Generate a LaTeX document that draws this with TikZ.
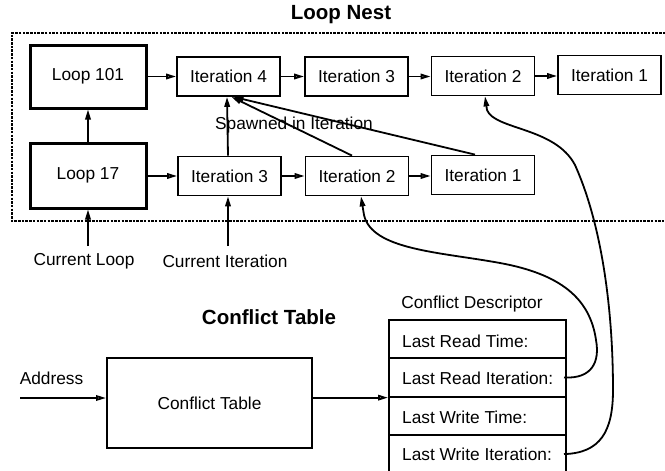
\documentclass[tikz,border=0pt]{standalone}
\usepackage{fontspec}
\setmainfont{Liberation Sans}
\usetikzlibrary{arrows.meta}
\tikzset{
  txt/.style={font=\fontsize{17.3pt}{20pt}\selectfont, inner sep=1pt},
  ttl/.style={font=\fontsize{20.5pt}{24pt}\selectfont\bfseries, inner sep=1pt},
  loopbox/.style={draw, line width=3pt, minimum width=116pt, minimum height=63pt, inner sep=0pt, font=\fontsize{17.3pt}{20pt}\selectfont},
  itbox/.style={draw, line width=1.8pt, minimum width=103pt, minimum height=39pt, inner sep=0pt, font=\fontsize{17.3pt}{20pt}\selectfont},
  descrow/.style={draw, line width=2pt, minimum width=177pt, minimum height=38.3pt, inner sep=0pt},
  arr/.style={line width=1.8pt, -{Triangle[length=10pt,width=5.5pt,fill=gray!45]}},
  arrb/.style={line width=1.8pt, -{Triangle[length=10pt,width=5.5pt]}},
  nestframe/.style={line width=1.5pt, dash pattern=on 2.5pt off 1.2pt},
}
\begin{document}
\begin{tikzpicture}[x=1pt,y=-1pt]
\clip (0,0) rectangle (665,471);
\fill[white] (0,0) rectangle (665,471);

% titles
\node[ttl] (nesttitle) at (341,15) {Loop Nest};
\node[ttl] (cttitle) at (269,317) {Conflict Table};

% loop nest frame
\draw[nestframe] (680,33) -- (12,33) -- (12,221) -- (680,221);

% loops
\node[loopbox] (L101) at (88,76.5) {Loop 101};
\node[loopbox, minimum height=65pt] (L17) at (88,175.5) {Loop 17};

% iterations top row
\node[itbox] (I4)  at (228.5,76.5) {Iteration 4};
\node[itbox] (I3t) at (356.5,76.5) {Iteration 3};
\node[itbox] (I2t) at (483,76) {Iteration 2};
\node[itbox] (I1t) at (609.5,75) {Iteration 1};

% iterations bottom row
\node[itbox] (I3b) at (229.5,176) {Iteration 3};
\node[itbox] (I2b) at (357,176) {Iteration 2};
\node[itbox] (I1b) at (483,175) {Iteration 1};

\node[txt] (spawn) at (294,125) {Spawned in Iteration};

% horizontal chains
\draw[arr] (L101) -- (I4);
\draw[arr] (I4) -- (I3t);
\draw[arr] (I3t) -- (I2t.west |- I3t);
\draw[arr] (I2t) -- (I1t.west |- I2t);
\draw[arr] (L17.east |- I3b) -- (I3b);
\draw[arr] (I3b) -- (I2b);
\draw[arr] (I2b) -- (I1b.west |- I2b);

% vertical / spawned links
\draw[arrb] (L17) -- (L101);
\draw[arrb] ([xshift=-1.5pt]I3b.north) -- ([xshift=-1.5pt]I4.south);
\draw[arrb] ([xshift=-5pt]I2b.north) -- ([xshift=3pt]I4.south);
\draw[arrb] ([xshift=-8pt]I1b.north) -- ([xshift=5pt]I4.south);

% current pointers
\coordinate (curloop) at (88,246);
\coordinate (curit) at (228,246);
\draw[arrb] (curloop) -- (L17);
\draw[arrb] (curit) -- (curit |- I3b.south);
\node[txt] (curlooplbl) at (84,261) {Current Loop};
\node[txt] (curitlbl) at (225,261) {Current Iteration};

% conflict table
\node[draw, line width=2pt, minimum width=205pt, minimum height=90pt, inner sep=0pt, font=\fontsize{17.3pt}{20pt}\selectfont] (CT) at (209.5,403) {Conflict Table};
\coordinate (addr) at (20,398);
\node[txt] (addrlbl) at (51.5,378) {Address};
\draw[arr] (addr) -- (addr -| CT.west);

% conflict descriptor
\node[txt] (desclbl) at (472,304) {Conflict Descriptor};
\node[descrow] (r1) at (477.5,339.2) {};
\node[descrow] (r2) at (477.5,377.5) {};
\node[descrow] (r3) at (477.5,415.8) {};
\node[descrow] (r4) at (477.5,454.1) {};
\node[txt, anchor=west] (t1) at (401,341) {Last Read Time:};
\node[txt, anchor=west] (t2) at (401,378.5) {Last Read Iteration:};
\node[txt, anchor=west] (t3) at (401,417) {Last Write Time:};
\node[txt, anchor=west] (t4) at (401,454) {Last Write Iteration:};

\draw[arr] (CT.east |- r2.south west) -- (r2.south west);

% pointers back into loop nest
\draw[arrb] ([xshift=-3pt]r2.east) .. controls (592,379) and (600,362) .. (596,340)
  .. controls (590,298) and (560,274) .. (500,263)
  .. controls (440,252) and (372,250) .. (364,215)
  -- ([xshift=4pt]I2b.south);
\draw[arrb] ([xshift=-3pt]r4.east) .. controls (600,453) and (613,432) .. (613,390)
  .. controls (613,310) and (602,225) .. (575,165)
  .. controls (555,127) and (495,130) .. (487,110)
  -- ([xshift=2pt]I2t.south);
\end{tikzpicture}
\end{document}
